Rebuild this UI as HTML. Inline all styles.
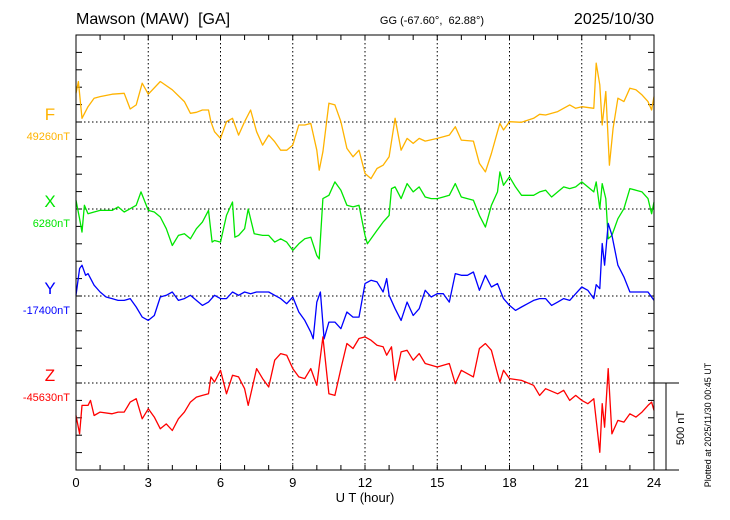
<!DOCTYPE html>
<html><head><meta charset="utf-8"><style>
body{margin:0;background:#fff;}
svg{display:block;font-family:"Liberation Sans",sans-serif;}
</style></head><body>
<svg id="chart" width="730" height="520" viewBox="0 0 730 520">
<text x="76" y="24" font-size="16">Mawson (MAW)&#160; [GA]</text>
<text x="432" y="24" font-size="11" text-anchor="middle">GG (-67.60°,&#160; 62.88°)</text>
<text x="654" y="24" font-size="16" text-anchor="end">2025/10/30</text>
<g id="grid"></g>
<g id="series"></g>
<rect x="76" y="35" width="578" height="435" fill="none" stroke="#000" stroke-width="1"/>
<g id="labels"></g>
<g id="xticks"></g>
<text x="365" y="502" font-size="13" text-anchor="middle">U T (hour)</text>
<line x1="654" y1="383" x2="679" y2="383" stroke="#000"/>
<line x1="654" y1="470" x2="679" y2="470" stroke="#000"/>
<line x1="666" y1="383" x2="666" y2="470" stroke="#000"/>
<text transform="translate(684,428) rotate(-90)" font-size="11" text-anchor="middle">500 nT</text>
<text transform="translate(711,425) rotate(-90)" font-size="9" text-anchor="middle">Plotted at 2025/11/30 00:45 UT</text>
</svg>
<script>
const xTickLabels=[0,3,6,9,12,15,18,21,24];
const seriesNames=["F","X","Y","Z"];
const seriesBaselines=["49260nT","6280nT","-17400nT","-45630nT"];
const fHours=[0,0.1,0.25,0.5,0.75,1,1.5,2,2.25,2.5,2.75,3,3.5,4,4.5,4.75,5,5.25,5.5,5.6,5.75,6,6.25,6.5,6.75,7,7.25,7.5,7.75,8,8.25,8.5,8.75,9,9.25,9.5,9.75,10,10.1,10.25,10.5,10.75,11,11.25,11.5,11.75,12,12.25,12.5,12.75,13,13.25,13.5,13.75,14,14.25,14.5,15,15.5,15.75,16,16.5,16.75,17,17.25,17.5,17.6,17.75,18,18.5,19,19.25,19.5,20,20.5,20.75,21,21.5,21.6,21.75,21.85,22,22.15,22.3,22.5,22.75,23,23.25,23.5,23.75,23.9,24];
const fValues=[165,233,21,88,137,146,160,165,75,98,223,160,233,185,117,50,56,69,69,2,-56,-94,2,21,-75,2,69,-56,-133,-75,-113,-162,-162,-133,-17,-17,-8,-162,-277,-171,108,98,2,-152,-200,-162,-296,-325,-267,-248,-200,21,-162,-94,-123,-94,-110,-94,-75,-27,-104,-110,-238,-287,-181,-56,-8,-46,2,-2,21,44,40,60,98,79,88,79,338,213,-17,175,-248,-36,137,117,194,185,156,117,69,146];
const xHours=[0,0.15,0.25,0.35,0.5,0.75,1,1.5,1.75,2,2.25,2.5,2.7,3,3.25,3.5,3.75,4,4.25,4.5,4.75,5,5.25,5.5,5.65,5.75,6,6.25,6.5,6.6,6.75,7,7.15,7.4,7.75,8,8.25,8.5,8.75,9,9.25,9.5,9.75,10,10.1,10.25,10.5,10.75,11,11.25,11.5,11.75,12,12.1,12.25,12.5,12.75,13,13.1,13.25,13.5,13.75,14,14.25,14.5,14.75,15,15.25,15.5,15.75,16,16.5,16.75,17,17.25,17.5,17.6,17.75,18,18.25,18.5,18.75,19,19.25,19.5,19.75,20,20.25,20.5,20.75,21,21.25,21.5,21.6,21.75,21.85,22,22.1,22.25,22.5,22.75,23,23.25,23.5,23.75,23.9,24];
const xValues=[50,-56,-133,21,-27,-17,-8,-8,12,-17,2,21,98,-8,-17,-46,-113,-210,-152,-142,-171,-113,-75,-8,-190,-181,-190,-37,40,-162,-152,-113,0,-142,-152,-152,-190,-171,-190,-238,-200,-171,-162,-267,-287,60,79,156,108,21,12,21,-152,-200,-171,-123,-75,-37,117,127,60,146,98,127,69,60,60,69,79,146,69,50,-37,-104,21,98,213,136,185,127,79,79,79,98,108,69,98,127,117,127,156,127,98,156,2,146,60,-171,-152,-56,2,117,108,98,60,-27,40];
const yHours=[0,0.15,0.25,0.4,0.5,0.75,1,1.25,1.5,1.75,2,2.25,2.5,2.75,3,3.25,3.5,3.75,4,4.25,4.5,4.75,5,5.25,5.5,5.75,6,6.25,6.5,6.75,7,7.25,7.5,7.75,8,8.25,8.5,8.75,9,9.25,9.5,9.75,9.85,10,10.15,10.3,10.5,10.75,11,11.25,11.5,11.75,12,12.25,12.5,12.75,12.9,13,13.25,13.5,13.75,14,14.25,14.5,14.75,15,15.25,15.5,15.75,16,16.25,16.5,16.75,17,17.25,17.5,17.75,18,18.25,18.5,18.75,19,19.25,19.5,19.75,20,20.25,20.5,20.75,21,21.25,21.5,21.6,21.75,21.85,21.95,22.1,22.25,22.5,22.75,23,23.5,23.75,24];
const yValues=[4,158,177,119,129,62,23,-6,-15,-25,-25,-15,-63,-121,-140,-112,-6,4,23,-25,-15,4,-25,-54,-35,4,-15,-15,23,4,23,13,23,23,23,4,-15,-44,-6,-92,-140,-208,-246,-35,23,-246,-150,-150,-188,-92,-121,-121,71,90,81,23,100,4,-73,-140,-35,-112,-73,33,-6,13,13,-35,129,119,119,138,33,119,52,71,-15,-54,-83,-63,-44,-25,-15,-15,-54,-35,-15,-25,13,52,33,-15,65,42,302,177,417,350,177,110,23,23,23,-25];
const zHours=[0,0.15,0.25,0.5,0.6,0.75,1,1.5,1.75,2,2.25,2.5,2.75,3,3.25,3.5,3.75,4,4.25,4.5,4.75,5,5.25,5.5,5.6,5.75,6,6.25,6.5,6.75,7,7.15,7.5,7.75,8,8.25,8.5,8.75,9,9.25,9.5,9.75,10,10.25,10.5,10.75,11,11.25,11.5,11.75,12,12.25,12.5,12.75,12.9,13.1,13.25,13.5,13.75,14,14.25,14.5,15,15.5,15.75,16,16.5,16.75,17,17.25,17.5,17.6,17.75,18,18.5,19,19.25,19.5,20,20.25,20.5,20.75,21,21.25,21.5,21.75,21.85,21.95,22.1,22.25,22.5,22.75,23,23.25,23.5,23.75,23.9,24];
const zValues=[-187,-292,-129,-129,-100,-187,-167,-177,-167,-167,-110,-90,-206,-148,-196,-263,-235,-273,-206,-167,-110,-81,-71,-62,35,6,73,-62,44,35,-33,-129,83,25,-23,131,169,160,83,35,25,83,-13,265,-62,-71,83,227,198,256,265,246,217,208,160,208,15,179,188,131,169,112,92,112,-4,73,35,198,227,188,54,6,73,25,15,-13,-71,-33,-62,-42,-100,-71,-100,-119,-90,-398,-119,-254,83,-292,-215,-225,-177,-196,-167,-129,-110,-158];

const NS="http://www.w3.org/2000/svg";
const X0=76,X1=654,Y0=35,Y1=470;
const xScale=h=>X0+h*(X1-X0)/24;
const pxPerNT=87/500;
const baselines=[122,209,296,383];
const colors=["#FFB300","#00E600","#0000FF","#FF0000"];
function mk(tag,attrs,parent){const e=document.createElementNS(NS,tag);for(const k in attrs)e.setAttribute(k,attrs[k]);parent.appendChild(e);return e;}
const grid=document.getElementById('grid');
for(let i=1;i<8;i++){const x=xScale(xTickLabels[i]);
 const l=mk('line',{x1:x,y1:Y0,x2:x,y2:Y1,stroke:'#000','stroke-dasharray':'1.5,2.5','stroke-width':1},grid);
 
 }
baselines.forEach(b=>{const l=mk('line',{x1:X0,y1:b,x2:X1,y2:b,stroke:'#000','stroke-dasharray':'1.5,2.5','stroke-width':1},grid);
 
 });
for(let h=1;h<24;h++){const x=xScale(h);
 const t1=mk('line',{x1:x,y1:Y0,x2:x,y2:Y0+5,stroke:'#000'},grid);
 
 
 const t2=mk('line',{x1:x,y1:Y1,x2:x,y2:Y1-5,stroke:'#000'},grid);
 
 }
for(let i=1;i<25;i++){const y=Y0+i*(Y1-Y0)/25;
 const t1=mk('line',{x1:X0,y1:y,x2:X0+6,y2:y,stroke:'#000'},grid);
 
 
 const t2=mk('line',{x1:X1,y1:y,x2:X1-6,y2:y,stroke:'#000'},grid);
 
 }
const xt=document.getElementById('xticks');
xTickLabels.forEach(h=>{const t=mk('text',{x:xScale(h),y:487,'font-size':13,'text-anchor':'middle'},xt);t.textContent=h;
 
 });
const sg=document.getElementById('series');
const allH=[fHours,xHours,yHours,zHours],allV=[fValues,xValues,yValues,zValues];
for(let s=0;s<4;s++){
 const d=allH[s].map((h,i)=>(i?'L':'M')+xScale(h).toFixed(1)+','+(baselines[s]-allV[s][i]*pxPerNT).toFixed(1)).join('');
 const p=mk('path',{d:d,fill:'none',stroke:colors[s],'stroke-width':1.3,'stroke-linejoin':'round'},sg);
 
 
}
const lg=document.getElementById('labels');
for(let s=0;s<4;s++){const b=baselines[s];
 const t=mk('text',{x:50,y:b-2,'font-size':17,fill:colors[s],'text-anchor':'middle'},lg);t.textContent=seriesNames[s];
 
 
 const t2=mk('text',{x:70,y:b+18,'font-size':11,fill:colors[s],'text-anchor':'end'},lg);t2.textContent=seriesBaselines[s];
 
 }
</script>
</body></html>
